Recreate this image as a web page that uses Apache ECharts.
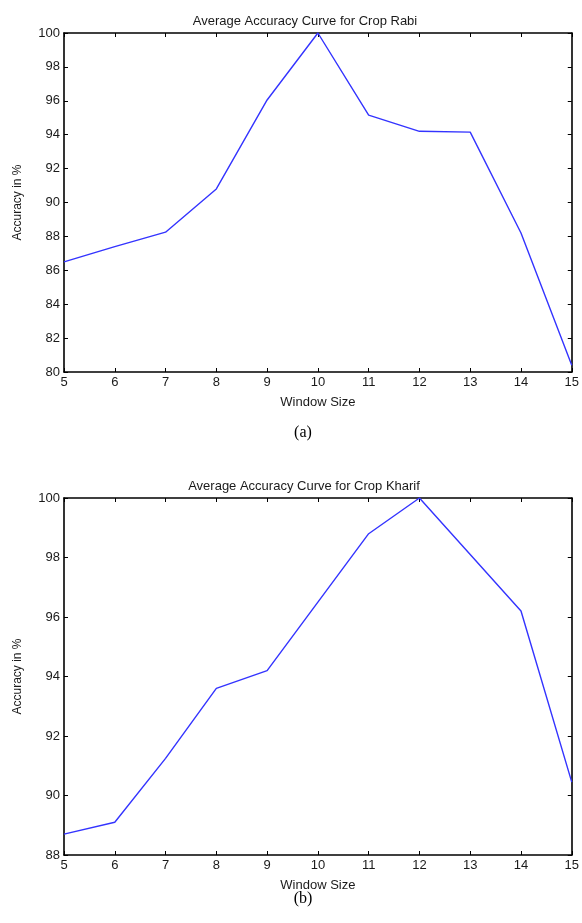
<!DOCTYPE html>
<html><head><meta charset="utf-8">
<script src="https://cdn.jsdelivr.net/npm/echarts@6/dist/echarts.min.js"></script>
<style>html,body{margin:0;padding:0;background:#fff;}#c{width:582px;height:923px;}</style>
</head><body><div id="c"></div>
<script>
const windowSizes = [5, 6, 7, 8, 9, 10, 11, 12, 13, 14, 15];
const rabiAccuracy = [86.5, 87.4, 88.25, 90.8, 96.05, 100, 95.15, 94.2, 94.15, 88.2, 80.4];
const kharifAccuracy = [88.7, 89.1, 91.25, 93.6, 94.2, 96.5, 98.8, 100, 98.1, 96.2, 90.45];
const titleA = 'Average Accuracy Curve for Crop Rabi';
const titleB = 'Average Accuracy Curve for Crop Kharif';
const xName = 'Window Size';
const yName = 'Accuracy in %';

const font = 'Liberation Sans, Arial, sans-serif';
const txt = '#1a1a1a';
const axisLine = {show: true, onZero: false, lineStyle: {color: '#000', width: 1.6}};
function xAxes(gi) {
  return [
    {type: 'value', gridIndex: gi, min: 5, max: 15, interval: 1, position: 'bottom',
     name: xName, nameLocation: 'middle', nameGap: 24,
     nameTextStyle: {fontFamily: font, fontSize: 13, color: txt},
     axisLine: axisLine, axisTick: {inside: true, length: 4, lineStyle: {color: '#000'}},
     axisLabel: {fontFamily: font, fontSize: 13, color: txt, margin: 4}, splitLine: {show: false}},
    {type: 'value', gridIndex: gi, min: 5, max: 15, interval: 1, position: 'top',
     axisLine: axisLine, axisTick: {inside: true, length: 4, lineStyle: {color: '#000'}},
     axisLabel: {show: false}, splitLine: {show: false}}
  ];
}
function yAxes(gi, min, max) {
  return [
    {type: 'value', gridIndex: gi, min: min, max: max, interval: 2, position: 'left',
     name: yName, nameLocation: 'middle', nameGap: 40, nameRotate: 90,
     nameTextStyle: {fontFamily: font, fontSize: 12, color: txt},
     axisLine: axisLine, axisTick: {inside: true, length: 4, lineStyle: {color: '#000'}},
     axisLabel: {fontFamily: font, fontSize: 13, color: txt, margin: 4}, splitLine: {show: false}},
    {type: 'value', gridIndex: gi, min: min, max: max, interval: 2, position: 'right',
     axisLine: axisLine, axisTick: {inside: true, length: 4, lineStyle: {color: '#000'}},
     axisLabel: {show: false}, splitLine: {show: false}}
  ];
}
const chart = echarts.init(document.getElementById('c'), null, {renderer: 'canvas'});
chart.setOption({
  animation: false,
  backgroundColor: '#fff',
  title: [
    {text: titleA, left: 300, top: 10, textAlign: 'center', textStyle: {fontFamily: font, fontSize: 13, fontWeight: 'normal', color: txt}},
    {text: titleB, left: 299, top: 475, textAlign: 'center', textStyle: {fontFamily: font, fontSize: 13, fontWeight: 'normal', color: txt}},
    {text: '(a)', left: 298, top: 420, textAlign: 'center', textStyle: {fontFamily: 'Liberation Serif, Times New Roman, serif', fontSize: 16, fontWeight: 'normal', color: '#000'}},
    {text: '(b)', left: 298, top: 886, textAlign: 'center', textStyle: {fontFamily: 'Liberation Serif, Times New Roman, serif', fontSize: 16, fontWeight: 'normal', color: '#000'}}
  ],
  grid: [
    {left: 64, top: 33, width: 509, height: 339},
    {left: 64, top: 498, width: 509, height: 357}
  ],
  xAxis: [...xAxes(0), ...xAxes(1)],
  yAxis: [...yAxes(0, 80, 100), ...yAxes(1, 88, 100)],
  series: [
    {type: 'line', xAxisIndex: 0, yAxisIndex: 0, data: windowSizes.map((x, i) => [x, rabiAccuracy[i]]),
     showSymbol: false, lineStyle: {color: '#3333ff', width: 1.4}, clip: false},
    {type: 'line', xAxisIndex: 2, yAxisIndex: 2, data: windowSizes.map((x, i) => [x, kharifAccuracy[i]]),
     showSymbol: false, lineStyle: {color: '#3333ff', width: 1.4}, clip: false}
  ]
});
</script></body></html>
